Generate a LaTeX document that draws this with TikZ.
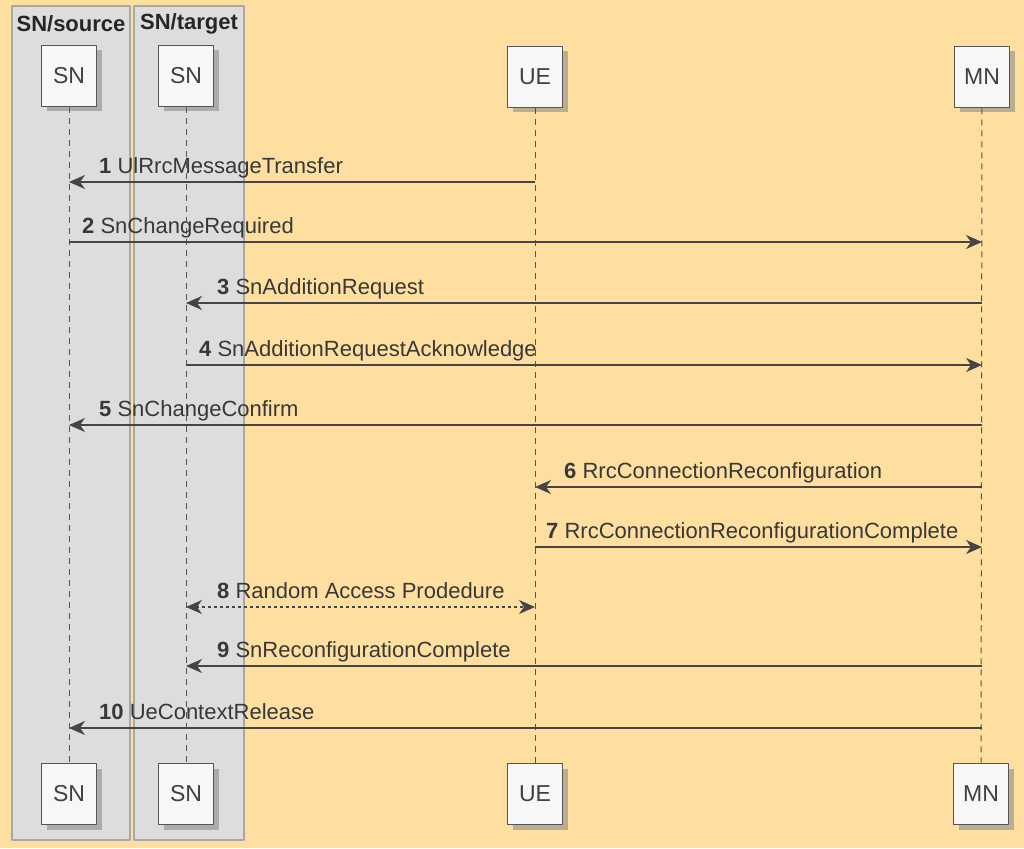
\documentclass[tikz,border=0pt]{standalone}
\usepackage{fontspec}
\setmainfont{Liberation Sans}
\usetikzlibrary{arrows.meta,shadows}

\definecolor{bgorange}{HTML}{FEDFA0}
\definecolor{grpfill}{HTML}{DDDDDD}
\definecolor{grpline}{HTML}{A8A8A8}
\definecolor{partfill}{HTML}{F7F7F8}
\definecolor{partline}{HTML}{555555}
\definecolor{msgline}{HTML}{454545}

\begin{document}
\begin{tikzpicture}[
        x = 1pt, y = -1pt,
        line join=round,
        grp/.style = {draw=grpline, fill=grpfill, line width=1.3pt},
        grptitle/.style = {font=\fontsize{22}{24}\selectfont\bfseries, text=black!85},
        part/.style = {draw=partline, fill=partfill, line width=1.6pt,
            minimum width=55pt, minimum height=61pt, inner sep=0pt,
            font=\fontsize{23}{25}\selectfont, text=black!75,
            drop shadow={shadow xshift=5pt, shadow yshift=-5pt, fill=black!45, opacity=0.6}},
        life/.style = {draw=partline, line width=1pt, dash pattern=on 6pt off 5pt},
        msg/.style = {draw=msgline, line width=1.4pt, -{Stealth[length=16pt, width=14pt, inset=5pt]}},
        lbl/.style = {anchor=base west, inner sep=0pt, font=\fontsize{22}{24}\selectfont, text=black!78}
    ]

    \useasboundingbox[fill=bgorange] (0, 0) rectangle (1024, 848);

    % boxes
    \draw[grp] (12, 6) rectangle (130, 840);
    \draw[grp] (134, 6) rectangle (244, 840);
    \node[grptitle] (srctitle) at (71, 24) {SN/source};
    \node[grptitle] (tgttitle) at (189, 24) {SN/target};

    % participants
    \node[part] (sns) at (69, 76) {SN};
    \node[part] (snt) at (186, 76) {SN};
    \node[part] (ue) at (535, 77) {UE};
    \node[part] (mn) at (982, 77) {MN};

    \node[part] (sns-b) at (69, 794) {SN};
    \node[part] (snt-b) at (186, 794) {SN};
    \node[part] (ue-b) at (535, 794) {UE};
    \node[part] (mn-b) at (981, 794) {MN};

    \draw[life] (sns) -- (sns-b);
    \draw[life] (snt) -- (snt-b);
    \draw[life] (ue) -- (ue-b);
    \draw[life] (mn) -- (mn-b);

    % messages
    \coordinate (m1) at (0, 182);
    \coordinate (m2) at (0, 242);
    \coordinate (m3) at (0, 303);
    \coordinate (m4) at (0, 365);
    \coordinate (m5) at (0, 425);
    \coordinate (m6) at (0, 487);
    \coordinate (m7) at (0, 547);
    \coordinate (m8) at (0, 607);
    \coordinate (m9) at (0, 666);
    \coordinate (m10) at (0, 728);

    \draw[msg] (ue |- m1) -- (sns |- m1);
    \node[lbl] (l1) at ([xshift=30pt, yshift=9pt] sns |- m1) {\textbf{1} UlRrcMessageTransfer};

    \draw[msg] (sns |- m2) -- (mn |- m2);
    \node[lbl] (l2) at ([xshift=13pt, yshift=9pt] sns |- m2) {\textbf{2} SnChangeRequired};

    \draw[msg] (mn |- m3) -- (snt |- m3);
    \node[lbl] (l3) at ([xshift=31pt, yshift=9pt] snt |- m3) {\textbf{3} SnAdditionRequest};

    \draw[msg] (snt |- m4) -- (mn |- m4);
    \node[lbl] (l4) at ([xshift=13pt, yshift=9pt] snt |- m4) {\textbf{4} SnAdditionRequestAcknowledge};

    \draw[msg] (mn |- m5) -- (sns |- m5);
    \node[lbl] (l5) at ([xshift=30pt, yshift=9pt] sns |- m5) {\textbf{5} SnChangeConfirm};

    \draw[msg] (mn |- m6) -- (ue |- m6);
    \node[lbl] (l6) at ([xshift=29pt, yshift=9pt] ue |- m6) {\textbf{6} RrcConnectionReconfiguration};

    \draw[msg] (ue |- m7) -- (mn |- m7);
    \node[lbl] (l7) at ([xshift=11pt, yshift=9pt] ue |- m7) {\textbf{7} RrcConnectionReconfigurationComplete};

    \draw[msg, {Stealth[length=16pt, width=14pt, inset=5pt]}-{Stealth[length=16pt, width=14pt, inset=5pt]}, dash pattern=on 3pt off 3pt]
        (snt |- m8) -- (ue |- m8);
    \node[lbl] (l8) at ([xshift=31pt, yshift=9pt] snt |- m8) {\textbf{8} Random Access Prodedure};

    \draw[msg] (mn |- m9) -- (snt |- m9);
    \node[lbl] (l9) at ([xshift=31pt, yshift=9pt] snt |- m9) {\textbf{9} SnReconfigurationComplete};

    \draw[msg] (mn |- m10) -- (sns |- m10);
    \node[lbl] (l10) at ([xshift=30pt, yshift=9pt] sns |- m10) {\textbf{10} UeContextRelease};
\end{tikzpicture}
\end{document}
